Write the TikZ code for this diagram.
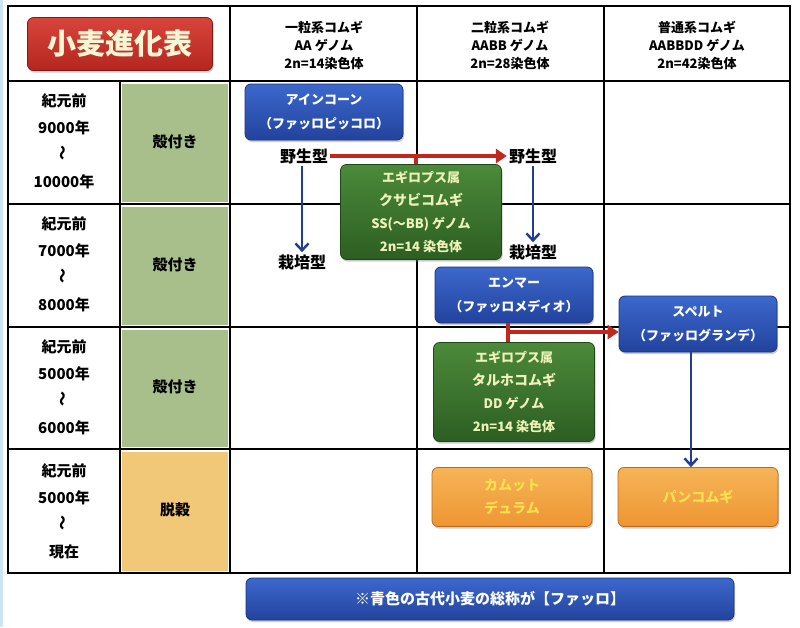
\documentclass[tikz,border=0pt]{standalone}
\usepackage{fontspec}
\setmainfont{Noto Sans CJK JP}
\usetikzlibrary{arrows.meta,shadows}

\definecolor{shellgreen}{HTML}{A9BF8B}
\definecolor{threshyellow}{HTML}{F0C878}
\definecolor{farrotop}{HTML}{3C68CC}
\definecolor{farrobot}{HTML}{22439E}
\definecolor{farroedge}{HTML}{1A3380}
\definecolor{wildtop}{HTML}{4C8A3A}
\definecolor{wildbot}{HTML}{2C5E22}
\definecolor{wildedge}{HTML}{1F4818}
\definecolor{wheattop}{HTML}{F6B457}
\definecolor{wheatbot}{HTML}{EE9632}
\definecolor{wheatedge}{HTML}{B86A1C}
\definecolor{titletop}{HTML}{D8443A}
\definecolor{titlebot}{HTML}{B42620}
\definecolor{crossred}{HTML}{C0281E}
\definecolor{arrowblue}{HTML}{1F3C96}
\definecolor{paleyellow}{HTML}{EEF2B8}
\definecolor{wheattext}{HTML}{F8E050}
\definecolor{sideblue}{HTML}{CFE4F2}

\tikzset{
  gridline/.style={black, line width=1.6pt},
  rowlabel/.style={font=\fontsize{15}{27}\selectfont\bfseries, align=center},
  headlabel/.style={font=\fontsize{13}{18}\selectfont\bfseries, align=center},
  stagelabel/.style={font=\fontsize{15}{18}\selectfont\bfseries},
  typelabel/.style={font=\fontsize{16}{18}\selectfont\bfseries, inner sep=2pt},
  box/.style={rounded corners=6pt, line width=0.8pt, align=center,
    drop shadow={opacity=0.4, shadow xshift=1pt, shadow yshift=-2pt}},
  farrobox/.style={box, draw=farroedge, top color=farrotop, bottom color=farrobot,
    text=white, minimum width=158pt, minimum height=56pt,
    font=\fontsize{13}{24}\selectfont\bfseries},
  wildbox/.style={box, draw=wildedge, top color=wildtop, bottom color=wildbot,
    text=paleyellow, minimum width=161pt,
    font=\fontsize{13}{23}\selectfont\bfseries},
  wheatbox/.style={box, draw=wheatedge, top color=wheattop, bottom color=wheatbot,
    text=wheattext, minimum width=160pt, minimum height=59pt,
    font=\fontsize{14}{23}\selectfont\bfseries},
  crossline/.style={crossred, line width=3.2pt},
  crossarrow/.style={crossline, -{Triangle[length=11pt, width=14pt]}},
  growarrow/.style={arrowblue, line width=2.4pt, -{Straight Barb[length=7pt, width=13pt]}},
}

\begin{document}
\begin{tikzpicture}[x=1pt, y=-1pt]
  \useasboundingbox (0,0) rectangle (800,627);
  \fill[white] (0,0) rectangle (800,627);
  \fill[sideblue] (0,0) rectangle (3,627);

  % Shaded cells of the second column
  \fill[shellgreen] (122,84) rectangle (228,202);
  \fill[shellgreen] (122,207) rectangle (228,325);
  \fill[shellgreen] (122,330) rectangle (228,447);
  \fill[threshyellow] (122,452) rectangle (228,571);

  % Grid
  \draw[gridline] (8,6) rectangle (790,573);
  \foreach \y in {81,204,327,449}
    \draw[gridline] (8,\y) -- (790,\y);
  \foreach \x in {230,417,604}
    \draw[gridline] (\x,6) -- (\x,573);
  \draw[gridline] (120,81) -- (120,573);

  % Title
  \node[box, draw=titlebot!70!black, top color=titletop, bottom color=titlebot,
    text=paleyellow!60!white, minimum width=185pt, minimum height=53pt,
    font=\fontsize{29}{30}\selectfont\bfseries] (title) at (120,44) {小麦進化表};

  % Column heads
  \node[headlabel] (einkornhead) at (324,45) {一粒系コムギ\\AA ゲノム\\2n=14染色体};
  \node[headlabel] (emmerhead) at (510,45) {二粒系コムギ\\AABB ゲノム\\2n=28染色体};
  \node[headlabel] (commonhead) at (697,45) {普通系コムギ\\AABBDD ゲノム\\2n=42染色体};

  % Periods
  \node[rowlabel] (era1) at (64,141) {紀元前\\9000年\\\rotatebox{90}{〜}\\10000年};
  \node[rowlabel] (era2) at (64,264) {紀元前\\7000年\\\rotatebox{90}{〜}\\8000年};
  \node[rowlabel] (era3) at (64,387) {紀元前\\5000年\\\rotatebox{90}{〜}\\6000年};
  \node[rowlabel] (era4) at (64,511) {紀元前\\5000年\\\rotatebox{90}{〜}\\現在};

  % Hulled or threshed
  \node[stagelabel] (stage1) at (175,142) {殻付き};
  \node[stagelabel] (stage2) at (175,265) {殻付き};
  \node[stagelabel] (stage3) at (175,387) {殻付き};
  \node[stagelabel] (stage4) at (175,510) {脱穀};

  % Wheats
  \node[farrobox] (einkorn) at (324,112) {アインコーン\\（ファッロピッコロ）};
  \node[typelabel] (wild1) at (304,156) {野生型};
  \node[typelabel] (cult1) at (302,262) {栽培型};
  \node[typelabel] (wild2) at (533,156) {野生型};
  \node[typelabel] (cult2) at (533,252) {栽培型};
  \node[wildbox, minimum height=95pt] (speltoides) at (421,212)
    {エギロプス属\\{\fontsize{14}{23}\selectfont クサビコムギ}\\SS(〜BB) ゲノム\\2n=14 染色体};
  \node[farrobox] (emmer) at (514,295) {エンマー\\（ファッロメディオ）};
  \node[farrobox] (spelt) at (698,324) {スペルト\\（ファッログランデ）};
  \node[wildbox, minimum height=99pt] (tauschii) at (514,392)
    {エギロプス属\\{\fontsize{14}{23}\selectfont タルホコムギ}\\DD ゲノム\\2n=14 染色体};
  \node[wheatbox] (durum) at (512,497) {カムット\\デュラム};
  \node[wheatbox] (bread) at (698,497) {パンコムギ};

  % Crosses
  \draw[crossarrow] (wild1.east) -- (wild2.west);
  \draw[crossline] (speltoides.north -| 416,0) -- (wild1.east -| 416,0);
  \coordinate (join2) at (508,332);
  \draw[crossline] (emmer.south -| join2) -- (tauschii.north -| join2);
  \draw[crossarrow] (join2) -- (join2 -| spelt.west);

  % Domestication
  \draw[growarrow] (wild1.south -| cult1) -- (cult1.north);
  \draw[growarrow] (wild2.south) -- (cult2.north);
  \draw[growarrow] (spelt.south -| 691,0) -- (bread.north -| 691,0);

  % Note
  \node[farrobox, minimum width=488pt, minimum height=42pt,
    font=\fontsize{15}{18}\selectfont\bfseries] (note) at (490,599)
    {※青色の古代小麦の総称が【ファッロ】};
\end{tikzpicture}
\end{document}
